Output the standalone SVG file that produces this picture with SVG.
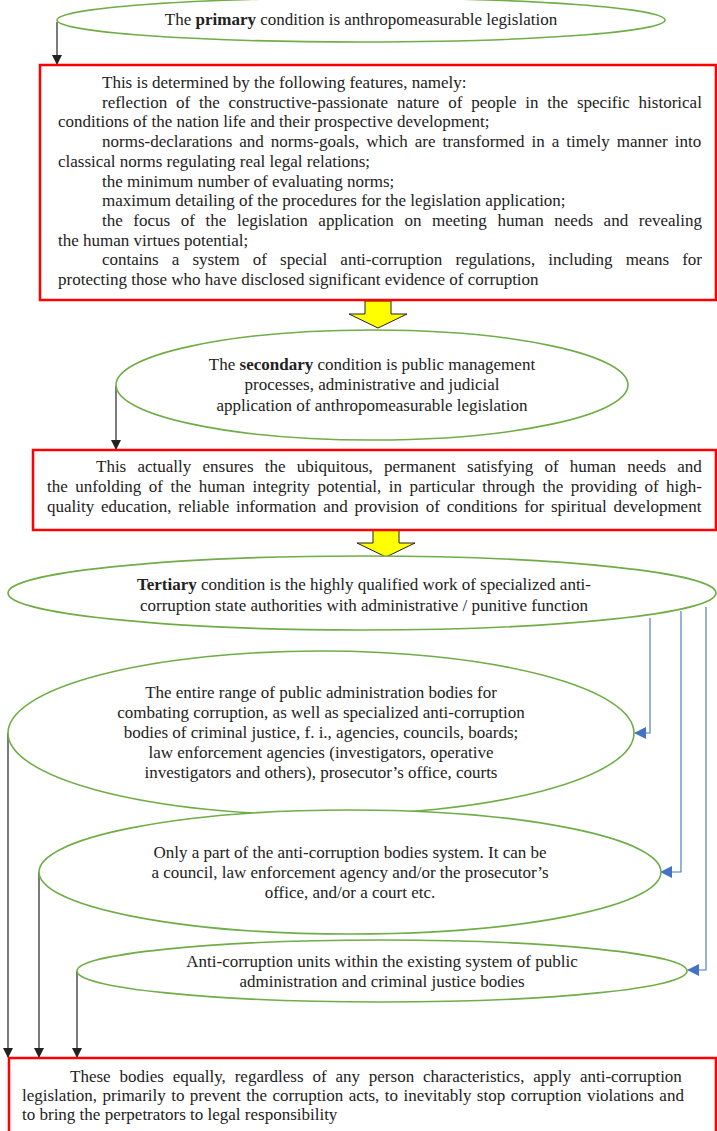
<svg xmlns="http://www.w3.org/2000/svg" width="717" height="1131" viewBox="0 0 717 1131">
<style>
text{font-family:"Liberation Serif","Times New Roman",serif;font-size:17px;fill:#222}
.c{text-anchor:middle}
.ell{fill:#fff;stroke:#70AD47;stroke-width:1.6}
.box{fill:#fff;stroke:#FF0000;stroke-width:2.5}
.blk{fill:none;stroke:#222;stroke-width:1.2}
.blu{fill:none;stroke:#4472C4;stroke-width:1.1}
.yel{fill:#FFFF00;stroke:#222;stroke-width:1}
</style>
<defs>
<marker id="ab" markerWidth="10" markerHeight="10" refX="9" refY="5" orient="auto" markerUnits="userSpaceOnUse"><path d="M0,0 L10,5 L0,10 z" fill="#222"/></marker>
<marker id="au" markerWidth="12" markerHeight="12" refX="11" refY="6" orient="auto" markerUnits="userSpaceOnUse"><path d="M0,0 L12,6 L0,12 z" fill="#4472C4"/></marker>
</defs>
<rect width="717" height="1131" fill="#fff"/>
<g id="connectors">
<path class="blk" d="M57,22 V64" marker-end="url(#ab)"/>
<path class="blk" d="M116,386 V449" marker-end="url(#ab)"/>
<path class="blk" d="M8,733 V1057" marker-end="url(#ab)"/>
<path class="blk" d="M39,872 V1057" marker-end="url(#ab)"/>
<path class="blk" d="M77,971 V1057" marker-end="url(#ab)"/>
<path class="blu" d="M650,618 V733 H635" marker-end="url(#au)"/>
<path class="blu" d="M681,611 V872 H661" marker-end="url(#au)"/>
<path class="blu" d="M706,607 V970 H688" marker-end="url(#au)"/>
<path class="yel" d="M365,301 H391 V314 H407 L378,328 L349,314 H365 Z"/>
<path class="yel" d="M373,529 H399 V543 H415 L386,557 L357,543 H373 Z"/>
</g>
<g id="primary">
<ellipse class="ell" cx="361" cy="20" rx="304" ry="22"/>
<text class="c" x="361" y="25">The <tspan font-weight="bold">primary</tspan> condition is anthropomeasurable legislation</text>
</g>
<g id="features">
<rect class="box" x="40" y="65" width="676" height="235"/>
<text x="102" y="88">This is determined by the following features, namely:</text>
<text x="102" y="107.7" style="word-spacing:4.57px">reflection of the constructive-passionate nature of people in the specific historical</text>
<text x="58" y="127.4">conditions of the nation life and their prospective development;</text>
<text x="102" y="147.1" style="word-spacing:2.75px">norms-declarations and norms-goals, which are transformed in a timely manner into</text>
<text x="58" y="166.8">classical norms regulating real legal relations;</text>
<text x="102" y="186.5">the minimum number of evaluating norms;</text>
<text x="102" y="206.2">maximum detailing of the procedures for the legislation application;</text>
<text x="102" y="225.9" style="word-spacing:6.35px">the focus of the legislation application on meeting human needs and revealing</text>
<text x="58" y="245.6">the human virtues potential;</text>
<text x="102" y="265.3" style="word-spacing:8.86px">contains a system of special anti-corruption regulations, including means for</text>
<text x="58" y="285">protecting those who have disclosed significant evidence of corruption</text>
</g>
<g id="secondary">
<ellipse class="ell" cx="372" cy="385" rx="256" ry="55"/>
<text class="c" x="372" y="370">The <tspan font-weight="bold">secondary</tspan> condition is public management</text>
<text class="c" x="372" y="390">processes, administrative and judicial</text>
<text class="c" x="372" y="411">application of anthropomeasurable legislation</text>
</g>
<g id="ensures">
<rect class="box" x="33" y="450" width="683" height="80"/>
<text x="96" y="472" style="word-spacing:7px">This actually ensures the ubiquitous, permanent satisfying of human needs and</text>
<text x="47" y="492" style="word-spacing:3.24px">the unfolding of the human integrity potential, in particular through the providing of high-</text>
<text x="47" y="512" style="word-spacing:2.6px">quality education, reliable information and provision of conditions for spiritual development</text>
</g>
<g id="tertiary">
<ellipse class="ell" cx="362" cy="593" rx="354" ry="37"/>
<text class="c" x="364" y="590"><tspan font-weight="bold">Tertiary</tspan> condition is the highly qualified work of specialized anti-</text>
<text class="c" x="364" y="611">corruption state authorities with administrative / punitive function</text>
</g>
<g id="entire-range">
<ellipse class="ell" cx="321" cy="733" rx="313" ry="82"/>
<text class="c" x="321" y="698">The entire range of public administration bodies for</text>
<text class="c" x="321" y="718">combating corruption, as well as specialized anti-corruption</text>
<text class="c" x="321" y="738">bodies of criminal justice, f. i., agencies, councils, boards;</text>
<text class="c" x="321" y="758">law enforcement agencies (investigators, operative</text>
<text class="c" x="321" y="778">investigators and others), prosecutor’s office, courts</text>
</g>
<g id="part">
<ellipse class="ell" cx="350" cy="872" rx="311" ry="62"/>
<text class="c" x="350" y="858">Only a part of the anti-corruption bodies system. It can be</text>
<text class="c" x="350" y="878">a council, law enforcement agency and/or the prosecutor’s</text>
<text class="c" x="350" y="898">office, and/or a court etc.</text>
</g>
<g id="units">
<ellipse class="ell" cx="382" cy="971" rx="305" ry="31"/>
<text class="c" x="382" y="967">Anti-corruption units within the existing system of public</text>
<text class="c" x="382" y="987">administration and criminal justice bodies</text>
</g>
<g id="bodies">
<rect class="box" x="9" y="1058" width="707" height="80"/>
<text x="70" y="1082" style="word-spacing:4.59px">These bodies equally, regardless of any person characteristics, apply anti-corruption</text>
<text x="22" y="1101" style="word-spacing:1.18px">legislation, primarily to prevent the corruption acts, to inevitably stop corruption violations and</text>
<text x="22" y="1120">to bring the perpetrators to legal responsibility</text>
</g>
</svg>
